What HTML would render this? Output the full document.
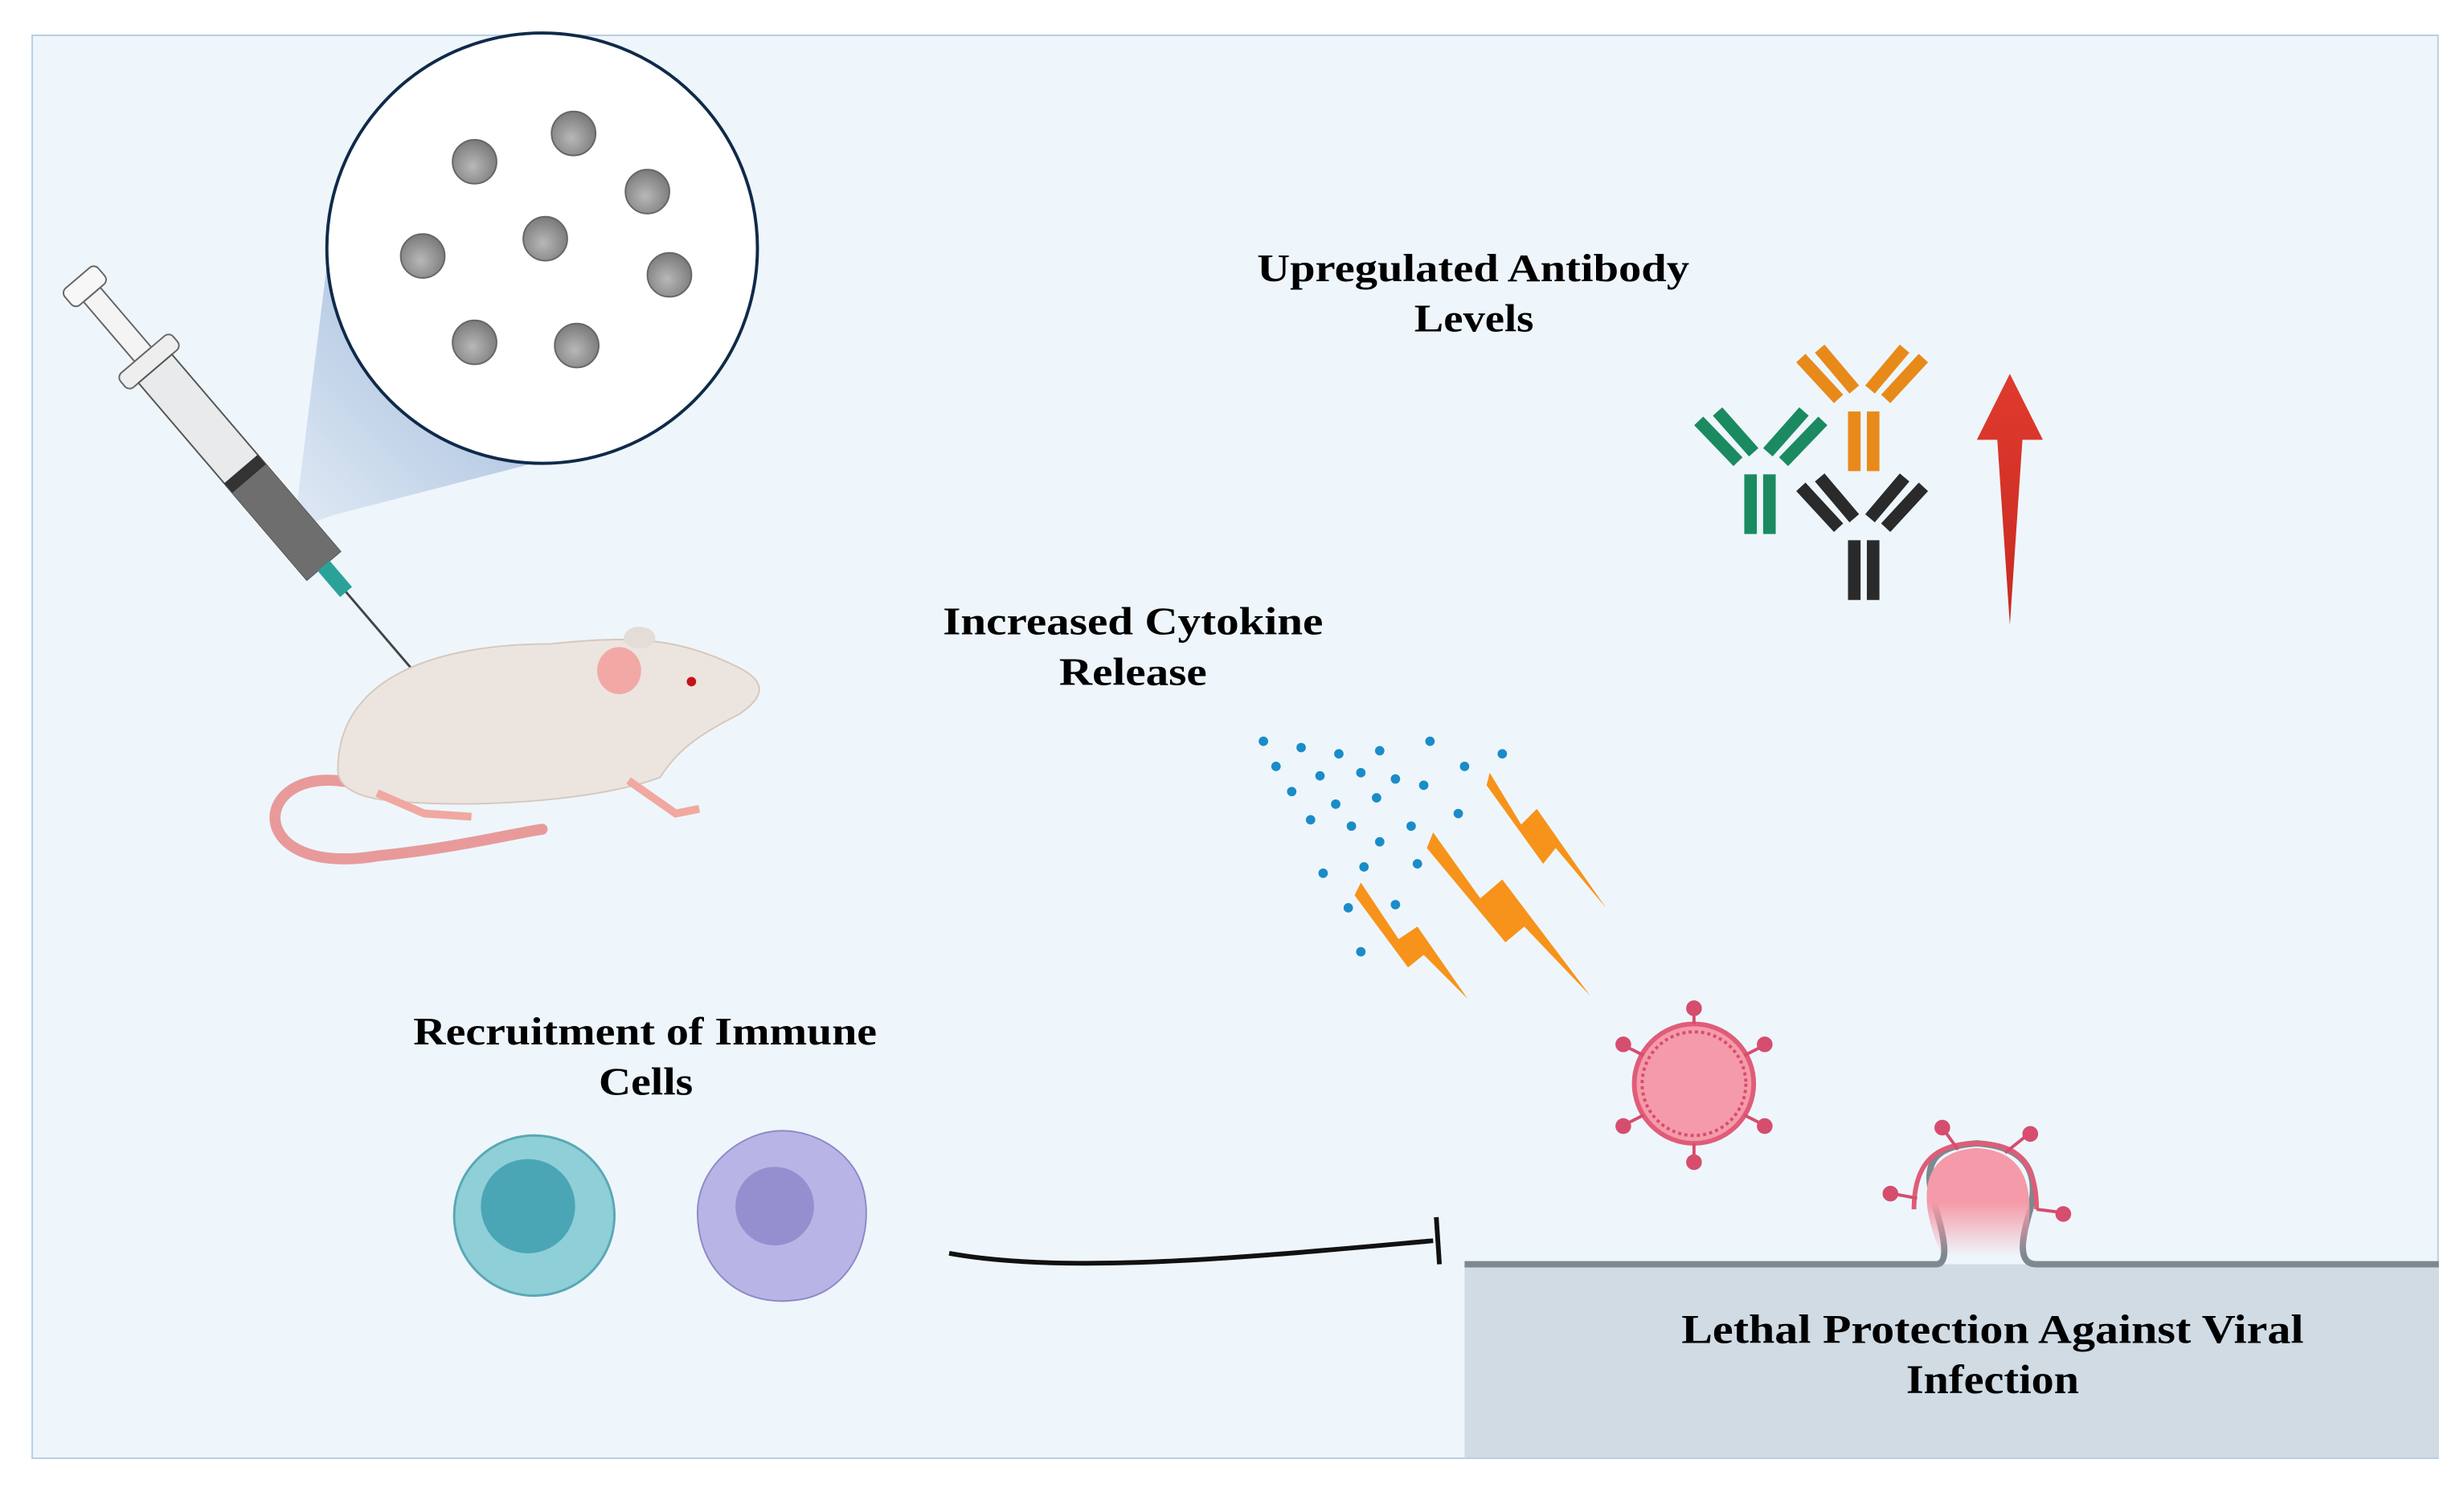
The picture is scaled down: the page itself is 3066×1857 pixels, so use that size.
<!DOCTYPE html>
<html><head><meta charset="utf-8"><style>
html,body{margin:0;padding:0;background:#fff;}
svg{display:block;}
text{font-family:"Liberation Serif",serif;font-weight:bold;fill:#000;}
</style></head><body>
<svg width="3066" height="1857" viewBox="0 0 1568 950" preserveAspectRatio="none" xmlns="http://www.w3.org/2000/svg">
<defs>
<linearGradient id="cone" x1="0" y1="1" x2="1" y2="0"><stop offset="0" stop-color="#dde8f4"/><stop offset="1" stop-color="#8aa8d0"/></linearGradient>
<radialGradient id="bead" cx="0.45" cy="0.6" r="0.6"><stop offset="0" stop-color="#b8b8b8"/><stop offset="1" stop-color="#7a7a7a"/></radialGradient>
<linearGradient id="bud" x1="0" y1="0" x2="0" y2="1"><stop offset="0.5" stop-color="#f59aa8"/><stop offset="1" stop-color="#f59aa8" stop-opacity="0"/></linearGradient>
<linearGradient id="arrow" x1="0" y1="0" x2="0" y2="1"><stop offset="0" stop-color="#e03a2e"/><stop offset="1" stop-color="#c82a20"/></linearGradient>
</defs>
<rect x="0" y="0" width="1568" height="950" fill="#fff"/>
<rect x="20.5" y="22.5" width="1531" height="906" fill="#eef6fb" stroke="#b8cde3" stroke-width="1"/>
<!-- cone -->
<polygon points="187,337 208,169 355,291 212,328" fill="url(#cone)" opacity="0.85"/>
<!-- circle -->
<circle cx="345" cy="158" r="137" fill="#fff" stroke="#0f2a4a" stroke-width="2"/>
<g fill="url(#bead)" stroke="#666" stroke-width="1">
<circle cx="302" cy="103" r="14"/><circle cx="365" cy="85" r="14"/><circle cx="412" cy="122" r="14"/>
<circle cx="269" cy="163" r="14"/><circle cx="347" cy="152" r="14"/><circle cx="426" cy="175" r="14"/>
<circle cx="302" cy="218" r="14"/><circle cx="367" cy="220" r="14"/>
</g>
<!-- syringe -->
<g transform="translate(52,180) rotate(49.5)">
<rect x="10" y="-7" width="50" height="14" fill="#f4f4f4" stroke="#666"/>
<rect x="-4" y="-14" width="14" height="28" rx="4" fill="#f7f7f7" stroke="#666"/>
<rect x="60" y="-22" width="12" height="44" rx="4" fill="#eee" stroke="#666"/>
<rect x="72" y="-14" width="165" height="28" fill="#e8eaec" stroke="#555"/>
<rect x="160" y="-14" width="77" height="28" fill="#6e6e6e"/>
<rect x="156" y="-14" width="8" height="28" fill="#333"/>
<rect x="237" y="-5" width="22" height="10" fill="#2aa29a"/>
<line x1="259" y1="0" x2="325" y2="0" stroke="#444" stroke-width="1.5"/>
</g>
<!-- mouse -->
<path d="M230,500 C160,480 150,560 240,545 C290,540 330,530 345,528" fill="none" stroke="#e89a9a" stroke-width="7" stroke-linecap="round"/>
<path d="M215,490 C215,430 280,410 350,410 C400,405 430,405 470,425 C490,435 485,445 470,455 C440,470 430,480 420,495 C380,510 300,515 250,510 C225,508 215,500 215,490 Z" fill="#ece4df" stroke="#d6c8bd"/>
<ellipse cx="394" cy="427" rx="14" ry="15" fill="#f2a9a5"/>
<ellipse cx="407" cy="406" rx="10" ry="7" fill="#e4dcd7"/>
<circle cx="440" cy="434" r="3" fill="#c0141b"/>
<path d="M240,505 L270,518 L300,520 M400,497 L430,518 L445,515" stroke="#f0a8a0" stroke-width="5" fill="none"/>
<!-- texts -->
<text x="800" y="179" font-size="25" textLength="275" lengthAdjust="spacingAndGlyphs">Upregulated Antibody</text>
<text x="900" y="211" font-size="25" textLength="76" lengthAdjust="spacingAndGlyphs">Levels</text>
<text x="600" y="404" font-size="25" textLength="242" lengthAdjust="spacingAndGlyphs">Increased Cytokine</text>
<text x="674" y="436" font-size="25" textLength="94" lengthAdjust="spacingAndGlyphs">Release</text>
<text x="263" y="665" font-size="25" textLength="295" lengthAdjust="spacingAndGlyphs">Recruitment of Immune</text>
<text x="381" y="697" font-size="25" textLength="60" lengthAdjust="spacingAndGlyphs">Cells</text>
<!-- antibodies -->
<g stroke="#1b8a60" stroke-width="8" fill="none"><path d="M1081,268 L1106,294 M1093,262 L1116,288 M1160,268 L1135,294 M1148,262 L1125,288"/><path d="M1114,302 L1114,340 M1126,302 L1126,340"/></g>
<g stroke="#e88a1a" stroke-width="8" fill="none"><path d="M1146,228 L1170,254 M1158,222 L1180,248 M1224,228 L1200,254 M1212,222 L1190,248"/><path d="M1180,262 L1180,300 M1192,262 L1192,300"/></g>
<g stroke="#2a2a2a" stroke-width="8" fill="none"><path d="M1146,310 L1170,336 M1158,304 L1180,330 M1224,310 L1200,336 M1212,304 L1190,330"/><path d="M1180,344 L1180,382 M1192,344 L1192,382"/></g>
<!-- red arrow -->
<polygon points="1279,238 1300,280 1287,280 1279,398 1271,280 1258,280" fill="url(#arrow)"/>
<!-- cytokine dots -->
<g fill="#1a8cc8">
<circle cx="804" cy="472" r="3"/><circle cx="828" cy="476" r="3"/><circle cx="852" cy="480" r="3"/><circle cx="878" cy="478" r="3"/><circle cx="910" cy="472" r="3"/><circle cx="956" cy="480" r="3"/>
<circle cx="812" cy="488" r="3"/><circle cx="840" cy="494" r="3"/><circle cx="866" cy="492" r="3"/><circle cx="888" cy="496" r="3"/><circle cx="932" cy="488" r="3"/>
<circle cx="822" cy="504" r="3"/><circle cx="850" cy="512" r="3"/><circle cx="876" cy="508" r="3"/><circle cx="906" cy="500" r="3"/><circle cx="928" cy="518" r="3"/>
<circle cx="834" cy="522" r="3"/><circle cx="860" cy="526" r="3"/><circle cx="898" cy="526" r="3"/><circle cx="878" cy="536" r="3"/>
<circle cx="842" cy="556" r="3"/><circle cx="868" cy="552" r="3"/><circle cx="902" cy="550" r="3"/><circle cx="858" cy="578" r="3"/><circle cx="888" cy="576" r="3"/><circle cx="866" cy="606" r="3"/>
</g>
<!-- lightning -->
<g fill="#f7931a">
<polygon points="948,492 968,525 978,515 1022,578 990,540 982,550 946,500"/>
<polygon points="912,530 942,572 956,560 1012,634 970,590 958,600 908,540"/>
<polygon points="866,562 890,598 902,590 934,636 906,608 896,616 862,570"/>
</g>
<!-- immune cells -->
<circle cx="340" cy="774" r="51" fill="#8ecfd8" stroke="#5aa8b4" stroke-width="1.5"/>
<circle cx="336" cy="768" r="30" fill="#4aa6b4"/>
<path d="M498,720 C520,720 545,735 550,760 C556,790 540,825 505,828 C470,832 445,808 444,775 C442,745 470,720 498,720 Z" fill="#b9b4e6" stroke="#8f88c8"/>
<circle cx="493" cy="768" r="25" fill="#958fcf"/>
<!-- inhibition line -->
<path d="M604,798 C680,812 800,800 912,790" fill="none" stroke="#111" stroke-width="3"/>
<line x1="914" y1="775" x2="916" y2="805" stroke="#111" stroke-width="3"/>
<!-- cell surface -->
<rect x="932" y="805" width="620" height="123" fill="#d0dbe4"/>
<path d="M932,805 L1232,805 C1240,805 1238,790 1232,770 C1222,740 1230,730 1258,728 C1288,730 1298,745 1292,770 C1286,790 1284,805 1296,805 L1552,805" fill="none" stroke="#7d8890" stroke-width="4"/>
<path d="M1236,800 C1218,760 1224,733 1258,731 C1292,733 1296,760 1288,800 Z" fill="url(#bud)"/>
<path d="M1218,770 C1218,740 1232,728 1258,728 C1284,728 1296,740 1296,770" fill="none" stroke="#e05c78" stroke-width="3"/>
<g stroke="#d64d6e" stroke-width="2" fill="#d64d6e">
<line x1="1246" y1="732" x2="1236" y2="718"/><circle cx="1236" cy="718" r="4"/>
<line x1="1276" y1="734" x2="1291" y2="722"/><circle cx="1292" cy="722" r="4"/>
<line x1="1220" y1="763" x2="1204" y2="760"/><circle cx="1203" cy="760" r="4"/>
<line x1="1296" y1="770" x2="1312" y2="772"/><circle cx="1313" cy="773" r="4"/>
</g>
<!-- free virus -->
<circle cx="1078" cy="690" r="38" fill="#f59aa8" stroke="#e05c78" stroke-width="3"/>
<circle cx="1078" cy="690" r="33" fill="none" stroke="#d64d6e" stroke-width="2" stroke-dasharray="2 2"/>
<g stroke="#d64d6e" stroke-width="2" fill="#d64d6e">
<line x1="1078" y1="652" x2="1078" y2="642"/><circle cx="1078" cy="642" r="4"/>
<line x1="1078" y1="728" x2="1078" y2="740"/><circle cx="1078" cy="740" r="4"/>
<line x1="1046" y1="672" x2="1034" y2="666"/><circle cx="1033" cy="665" r="4"/>
<line x1="1110" y1="672" x2="1122" y2="666"/><circle cx="1123" cy="665" r="4"/>
<line x1="1046" y1="710" x2="1034" y2="716"/><circle cx="1033" cy="717" r="4"/>
<line x1="1110" y1="710" x2="1122" y2="716"/><circle cx="1123" cy="717" r="4"/>
</g>
<text x="1070" y="855" font-size="26" textLength="396" lengthAdjust="spacingAndGlyphs">Lethal Protection Against Viral</text>
<text x="1213" y="887" font-size="26" textLength="110" lengthAdjust="spacingAndGlyphs">Infection</text>
</svg>
</body></html>
